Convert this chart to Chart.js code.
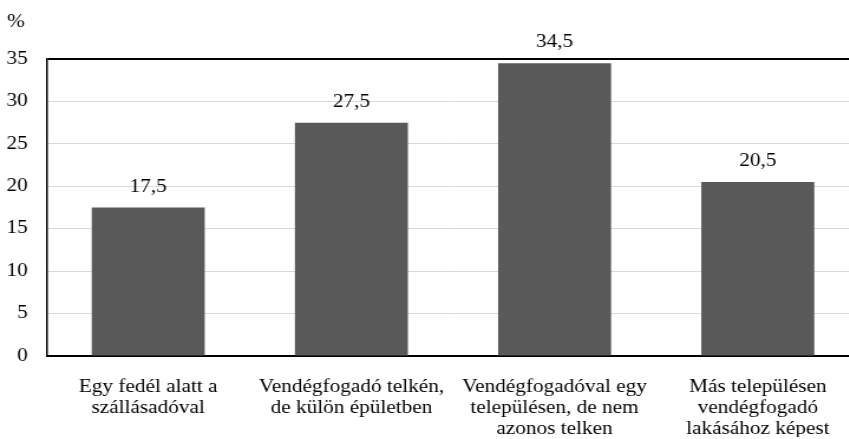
<!DOCTYPE html>
<html lang="hu">
<head>
<meta charset="utf-8">
<title>Vendégfogadó elhelyezkedése</title>
<script src="https://cdn.jsdelivr.net/npm/chart.js@4/dist/chart.umd.min.js"></script>
<style>
    html, body { margin: 0; padding: 0; background: #fff; overflow: hidden; }
    #keret { width: 849px; height: 439px; overflow: hidden; position: relative; }
    #grafico { display: block; }
</style>
</head>
<body>
<div id="keret">
    <!-- a vásznat vízszintesen kicsit megnyújtjuk, mint az eredeti képen -->
    <canvas id="grafico" width="737" height="439" style="width:870px;height:439px"></canvas>
</div>
<script>
// Adatok
const kategoriak = [
    ['Egy fedél alatt a', 'szállásadóval'],
    ['Vendégfogadó telkén,', 'de külön épületben'],
    ['Vendégfogadóval egy', 'településen, de nem', 'azonos telken'],
    ['Más településen', 'vendégfogadó', 'lakásához képest']
];
const ertekek = [17.5, 27.5, 34.5, 20.5];
const yMin = 0;
const yMax = 35;
const yLepes = 5;
const egyseg = '%';

const betu = "'Liberation Serif', 'Times New Roman', serif";

// Értékek kiírása az oszlopok fölé
const ertekFeliratok = {
    id: 'ertekFeliratok',
    afterDatasetsDraw(chart) {
        const ctx = chart.ctx;
        const meta = chart.getDatasetMeta(0);
        ctx.save();
        ctx.font = '18px ' + betu;
        ctx.fillStyle = '#000';
        ctx.textAlign = 'center';
        ctx.textBaseline = 'alphabetic';
        meta.data.forEach((oszlop, i) => {
            const szoveg = ertekek[i].toFixed(1).replace('.', ',');
            ctx.fillText(szoveg, oszlop.x, oszlop.y - 16);
        });
        ctx.restore();
    }
};

window.onload = function() {
    const ctx = document.getElementById('grafico').getContext('2d');

    new Chart(ctx, {
        type: 'bar',
        data: {
            labels: kategoriak,
            datasets: [{
                label: '',
                data: ertekek,
                backgroundColor: '#595959',
                borderWidth: 0,
                barPercentage: 0.556,
                categoryPercentage: 1
            }]
        },
        options: {
            responsive: false,
            animation: false,
            layout: {
                padding: { left: 6, right: 9, top: 0, bottom: 2 }
            },
            scales: {
                x: {
                    grid: { display: false },
                    border: { display: true, color: '#000', width: 2 },
                    ticks: {
                        color: '#000',
                        padding: 13,
                        maxRotation: 0,
                        autoSkip: false,
                        font: { size: 18, family: betu, lineHeight: 1.17 }
                    },
                    afterFit: function(scale) {
                        scale.height = 81;
                    }
                },
                y: {
                    min: yMin,
                    max: yMax,
                    grid: {
                        drawTicks: false,
                        color: c => (c.tick && c.tick.value === yMax) ? '#000' : '#d9d9d9',
                        lineWidth: c => (c.tick && c.tick.value === yMax) ? 2 : 1
                    },
                    border: { display: true, color: '#000', width: 1.5 },
                    ticks: {
                        stepSize: yLepes,
                        color: '#000',
                        padding: 16,
                        font: { size: 18, family: betu }
                    },
                    afterFit: function(scale) {
                        scale.width = 33.5;
                    }
                }
            },
            plugins: {
                legend: { display: false },
                tooltip: { enabled: false },
                title: {
                    display: true,
                    text: egyseg,
                    align: 'start',
                    color: '#000',
                    font: { size: 18, weight: 'normal', family: betu, lineHeight: 1.17 },
                    padding: { top: 12, bottom: 26 }
                }
            }
        },
        plugins: [ertekFeliratok]
    });
};
</script>
</body>
</html>
